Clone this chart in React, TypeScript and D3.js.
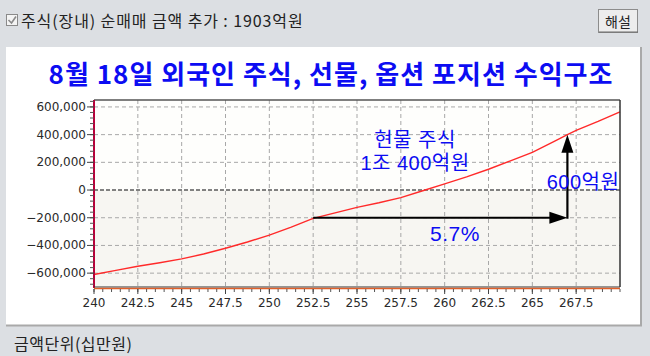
import React from "react";
import * as d3 from "d3";

const priceLevels = [240, 241.25, 242.5, 243.75, 245, 246.25, 247.5, 248.75, 250, 251.25, 252.5, 253.75, 255, 256.25, 257.5, 258.75, 260, 261.25, 262.5, 263.75, 265, 266.25, 267, 267.5, 268.75, 270];
const profitValues = [-610000, -580000, -550000, -525000, -497000, -462000, -420000, -375000, -325000, -268000, -205000, -165000, -125000, -92000, -55000, -5000, 45000, 95000, 150000, 210000, 272000, 352000, 400000, 430000, 495000, 565000];

const xTicks = [240, 242.5, 245, 247.5, 250, 252.5, 255, 257.5, 260, 262.5, 265, 267.5];
const yTicks = [-600000, -400000, -200000, 0, 200000, 400000, 600000];

const titleText = "8월 18일 외국인 주식, 선물, 옵션 포지션 수익구조";
const topLabel = "주식(장내) 순매매 금액 추가 : 1903억원";
const buttonLabel = "해설";
const unitLabel = "금액단위(십만원)";

const arrowStart = { x: 252.5, y: -200000 };
const arrowCorner = { x: 267, y: -200000 };
const arrowEnd = { x: 267, y: 400000 };
const annoStock = ["현물 주식", "1조 400억원"];
const annoPct = "5.7%";
const annoAmt = "600억원";

const W = 650;
const H = 356;
const plot = { left: 94, right: 620, top: 100, bottom: 287 };

export default function App() {
  const x = d3.scaleLinear().domain([240, 270]).range([plot.left, plot.right]);
  const y = d3.scaleLinear().domain([-700000, 650000]).range([plot.bottom, plot.top]);
  const data = priceLevels.map((p, i) => [p, profitValues[i]] as [number, number]);
  const line = d3.line<[number, number]>().x((d) => x(d[0])).y((d) => y(d[1]));

  const xMinor = d3.range(240, 270.01, 0.5);
  const yMinor = d3.range(-680000, 650001, 40000);
  const kfont = "'Noto Sans CJK KR', 'Noto Sans', sans-serif";
  const afont = "'Liberation Sans', 'Noto Sans CJK KR', sans-serif";
  const nfont = "'DejaVu Sans', Arial, sans-serif";
  const blue = "#0c0cf2";

  const ax = x(arrowStart.x), ay = y(arrowStart.y);
  const cx = x(arrowCorner.x), cy = y(arrowCorner.y);
  const ex = x(arrowEnd.x), ey = y(arrowEnd.y);

  return (
    <svg width={W} height={H} style={{ position: "fixed", left: 0, top: 0 }}>
      <rect x={0} y={0} width={W} height={H} fill="#dcdfe3" />
      {/* top checkbox + label */}
      <rect x={6.5} y={14.5} width={11} height={11} fill="#f4f4f4" stroke="#8a8a8a" />
      <path d="M8.5,20 L11.5,23 L16,16.5" fill="none" stroke="#8a8a8a" strokeWidth={1.6} />
      <text x={21} y={20} fontSize={16} letterSpacing={0.9} fontFamily={kfont} fill="#222" dominantBaseline="central">{topLabel}</text>
      {/* button */}
      <rect x={598.5} y={9.5} width={39} height={23} fill="#ededed" stroke="#8c8c8c" />
      <line x1={599} y1={32} x2={638} y2={32} stroke="#6a6a6a" />
      <text x={618} y={21} fontSize={14} fontFamily={kfont} fill="#222" textAnchor="middle" dominantBaseline="central">{buttonLabel}</text>
      {/* white panel */}
      <rect x={6} y={47} width={636} height={278} fill="#ffffff" />
      <line x1={641} y1={47} x2={641} y2={326} stroke="#a9a9a9" strokeWidth={2} />
      <line x1={6} y1={325.5} x2={642} y2={325.5} stroke="#a9a9a9" strokeWidth={2} />
      {/* title */}
      <text x={331} y={72} fontSize={26} letterSpacing={1} fontFamily={kfont} fill={blue} textAnchor="middle" dominantBaseline="central" fontWeight={600}>{titleText}</text>
      {/* plot background */}
      <rect x={plot.left} y={plot.top} width={plot.right - plot.left} height={y(0) - plot.top} fill="#fefefc" />
      <rect x={plot.left} y={y(0)} width={plot.right - plot.left} height={plot.bottom - y(0)} fill="#f7f6f2" />
      {/* grid */}
      {xTicks.filter((t) => t > 240).map((t) => (
        <line key={"gx" + t} x1={x(t)} x2={x(t)} y1={plot.top} y2={plot.bottom} stroke="#a8a8a8" strokeDasharray="4,3" />
      ))}
      {yTicks.filter((t) => t !== 0).map((t) => (
        <line key={"gy" + t} x1={plot.left} x2={plot.right} y1={y(t)} y2={y(t)} stroke="#a8a8a8" strokeDasharray="4,3" />
      ))}
      <line x1={plot.left} x2={plot.right} y1={y(0)} y2={y(0)} stroke="#5a5a5a" strokeWidth={1.6} strokeDasharray="4,2" />
      {/* data line */}
      <path d={line(data) || ""} fill="none" stroke="#ff2a2a" strokeWidth={1.4} />
      {/* borders */}
      <line x1={plot.left} x2={plot.right} y1={plot.top} y2={plot.top} stroke="#555" strokeWidth={1.5} />
      <line x1={plot.right} x2={plot.right} y1={plot.top} y2={plot.bottom} stroke="#333" strokeWidth={1.5} />
      <line x1={plot.left} x2={plot.left} y1={plot.top} y2={plot.bottom + 1} stroke="#b8003a" strokeWidth={2} />
      <line x1={plot.left} x2={plot.right} y1={plot.bottom} y2={plot.bottom} stroke="#333" strokeWidth={1} />
      <line x1={plot.left} x2={plot.right} y1={plot.bottom + 1.5} y2={plot.bottom + 1.5} stroke="#e0602a" strokeWidth={1.5} />
      {/* y ticks */}
      {yMinor.map((t) => (
        <line key={"ym" + t} x1={plot.left - 4} x2={plot.left} y1={y(t)} y2={y(t)} stroke="#555" />
      ))}
      {yTicks.map((t) => (
        <g key={"yt" + t}>
          <line x1={plot.left - 7} x2={plot.left} y1={y(t)} y2={y(t)} stroke="#444" />
          <text x={plot.left - 8} y={y(t)} fontSize={12} fontFamily={nfont} fill="#2a2a2a" textAnchor="end" dominantBaseline="central">{d3.format(",")(t)}</text>
        </g>
      ))}
      {/* x ticks */}
      {xMinor.map((t) => (
        <line key={"xm" + t} x1={x(t)} x2={x(t)} y1={plot.bottom + 2} y2={plot.bottom + 5} stroke="#555" />
      ))}
      {xTicks.map((t) => (
        <g key={"xt" + t}>
          <line x1={x(t)} x2={x(t)} y1={plot.bottom + 2} y2={plot.bottom + 7} stroke="#444" />
          <text x={x(t)} y={303} fontSize={12} fontFamily={nfont} fill="#2a2a2a" textAnchor="middle" dominantBaseline="central">{String(t)}</text>
        </g>
      ))}
      {/* arrows */}
      <line x1={ax} y1={ay} x2={cx - 16} y2={cy} stroke="#000" strokeWidth={2.2} />
      <path d={`M${cx},${cy} L${cx - 18},${cy - 6} L${cx - 18},${cy + 6} Z`} fill="#000" />
      <line x1={cx} y1={cy + 1} x2={ex} y2={ey + 16} stroke="#000" strokeWidth={2.2} />
      <path d={`M${ex},${ey} L${ex - 6},${ey + 18} L${ex + 6},${ey + 18} Z`} fill="#000" />
      {/* annotations */}
      <text x={415} y={140} fontSize={20} letterSpacing={0.5} fontFamily={afont} fill={blue} textAnchor="middle" dominantBaseline="central">{annoStock[0]}</text>
      <text x={415} y={163} fontSize={20} letterSpacing={0.5} fontFamily={afont} fill={blue} textAnchor="middle" dominantBaseline="central">{annoStock[1]}</text>
      <text x={583} y={182} fontSize={20} letterSpacing={0.5} fontFamily={afont} fill={blue} textAnchor="middle" dominantBaseline="central">{annoAmt}</text>
      <text x={455} y={233} fontSize={21} letterSpacing={0.5} fontFamily={afont} fill={blue} textAnchor="middle" dominantBaseline="central">{annoPct}</text>
      {/* unit label */}
      <text x={14} y={343} fontSize={16} letterSpacing={0.5} fontFamily={kfont} fill="#222" dominantBaseline="central">{unitLabel}</text>
    </svg>
  );
}
